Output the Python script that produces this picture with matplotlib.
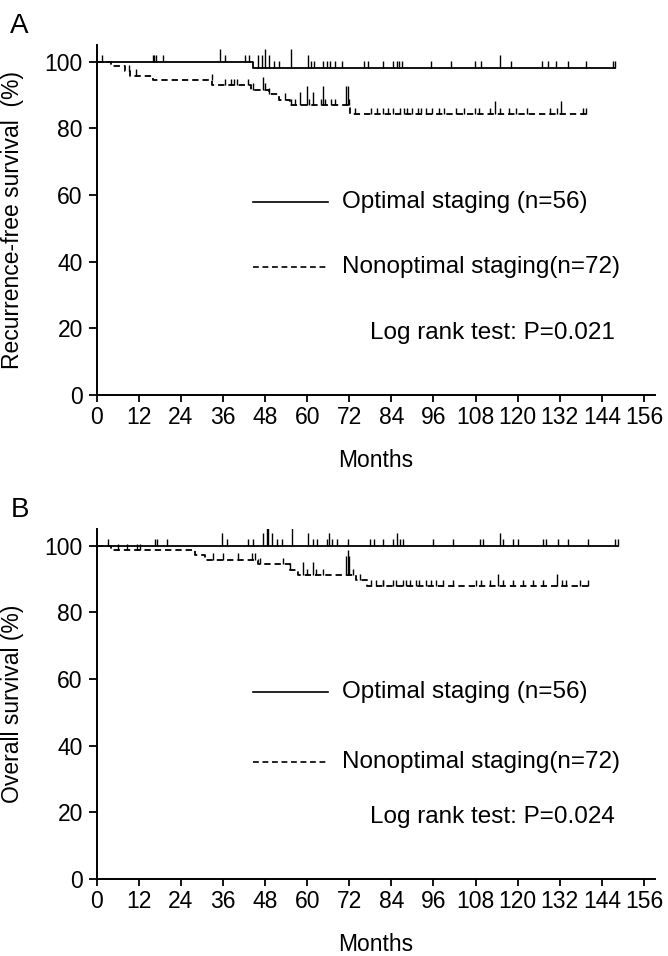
import matplotlib.pyplot as plt
import numpy as np

plt.rcParams['font.family'] = ['Liberation Sans', 'DejaVu Sans']

# ---- Panel A: recurrence-free survival ----
a_opt_times = [0, 44.6]
a_opt_surv = [100, 98.2]
a_opt_end = 147.8
a_opt_cens = [1.4, 15.9, 16.4, 16.9, 18.9, 35.0, 36.5, 42.3, 43.3, 45.9, 47.0, 48.0,
              49.0, 50.5, 52.0, 55.4, 60.2, 61.2, 62.0, 64.5, 65.5, 66.5, 68.0, 70.0,
              76.3, 77.3, 81.7, 84.5, 85.7, 86.3, 86.9, 95.3, 101.0, 107.7, 109.6,
              114.9, 118.2, 126.8, 128.7, 131.0, 134.4, 139.6, 147.3, 147.8]
a_opt_cnt = [1, 1, 1, 1, 1, 2, 1, 1, 1, 2, 2, 3,
             2, 1, 1, 3, 2, 1, 1, 1, 1, 1, 1, 1,
             1, 1, 1, 1, 1, 1, 1, 1, 1, 1, 1,
             2, 1, 1, 1, 1, 1, 1, 1, 1]

a_non_times = [0, 4.0, 8.1, 9.5, 16.0, 33.0, 44.0, 49.0, 52.0, 55.0, 72.3]
a_non_surv = [100, 98.6, 97.2, 95.8, 94.4, 93.0, 91.6, 90.2, 88.6, 87.0, 84.3]
a_non_end = 140.0
a_non_cens = [9.2, 11.1, 32.9, 36.7, 38.2, 39.1, 40.0, 43.0, 44.5, 47.3, 48.0, 49.0,
              53.7, 55.5, 56.5, 57.9, 59.9, 60.5, 61.6, 64.0, 64.5, 65.0, 66.7, 68.0,
              71.1, 71.6, 72.0, 73.5, 78.3, 80.0, 81.5, 83.0, 84.5, 86.4, 87.5, 88.5,
              90.0, 91.5, 92.5, 94.0, 95.5, 97.5, 99.0, 102.5, 104.8, 107.7, 109.0,
              112.0, 113.5, 115.0, 117.6, 119.5, 122.6, 129.3, 131.2, 132.4, 138.6, 139.5]
a_non_cnt = [1, 1, 1, 1, 1, 1, 1, 1, 1, 2, 1, 1,
             1, 1, 1, 2, 3, 1, 2, 1, 3, 1, 1, 1,
             3, 3, 1, 1, 1, 1, 1, 1, 1, 1, 1, 1,
             1, 1, 1, 1, 1, 1, 1, 1, 1, 1, 1,
             1, 2, 1, 1, 1, 1, 1, 1, 2, 1, 1]

# ---- Panel B: overall survival ----
b_opt_times = [0]
b_opt_surv = [100]
b_opt_end = 148.6
b_opt_cens = [3.3, 16.6, 17.1, 19.9, 35.6, 37.0, 43.2, 44.6, 47.5, 48.4, 48.9, 49.9,
              51.3, 52.7, 55.6, 60.3, 61.7, 62.7, 65.5, 66.2, 67.0, 68.4, 71.7, 77.9,
              78.9, 81.7, 84.5, 85.5, 86.5, 87.4, 95.9, 101.6, 109.2, 110.2, 114.9,
              115.8, 118.7, 120.1, 127.3, 128.2, 131.6, 134.4, 140.1, 147.7, 148.6]
b_opt_cnt = [1, 1, 1, 1, 2, 1, 1, 1, 2, 3, 3, 2,
             1, 1, 3, 2, 1, 1, 1, 2, 1, 1, 1, 1,
             1, 1, 1, 2, 1, 1, 1, 1, 1, 1, 2,
             1, 1, 1, 1, 1, 1, 1, 1, 1, 1]

b_non_times = [0, 4.0, 28.0, 31.0, 46.0, 55.0, 57.5, 74.0, 77.0]
b_non_surv = [100, 98.6, 97.2, 95.8, 94.4, 92.8, 91.2, 89.6, 87.8]
b_non_end = 140.6
b_non_cens = [6.2, 8.5, 11.4, 12.3, 33.1, 36.1, 40.4, 44.2, 45.0, 46.5, 53.2, 55.1,
              58.9, 59.8, 61.7, 62.6, 64.5, 71.0, 71.5, 72.0, 73.0, 75.0, 78.3, 79.7,
              81.5, 81.7, 84.5, 85.4, 87.4, 88.3, 89.2, 91.1, 92.0, 94.0, 95.4, 96.8,
              98.7, 101.6, 108.2, 109.6, 112.0, 114.4, 115.8, 118.7, 121.6, 124.4,
              127.3, 131.1, 132.5, 133.9, 137.7, 140.1]
b_non_cnt = [1, 1, 1, 1, 1, 1, 1, 1, 1, 1, 1, 1,
             2, 1, 2, 1, 1, 3, 4, 3, 1, 1, 1, 1,
             1, 1, 1, 1, 1, 1, 1, 1, 1, 1, 1, 1,
             1, 1, 1, 1, 1, 2, 1, 1, 1, 1,
             1, 2, 1, 1, 1, 1]

labels = ['Optimal staging (n=56)', 'Nonoptimal staging(n=72)']
month_ticks = np.arange(0, 157, 12)
pct_ticks = np.arange(0, 101, 20)

DASH = (0, (3.5, 2.2))
FS = 16.5


def draw_km(ax, times, surv, end, cens, cnt, ls):
    t = np.r_[times, end]
    s = np.r_[surv, surv[-1]]
    ax.step(t, s, where='post', color='black', lw=1.3, ls=ls)
    c = np.asarray(cens)
    idx = np.searchsorted(times, c, side='right') - 1
    base = np.asarray(surv)[idx]
    ax.vlines(c, base, base + 1.9 * np.asarray(cnt), color='black', lw=1.0)


def setup_axes(ax, ylabel, letter, ptext, rows):
    ax.set_xlim(0, 159)
    ax.set_ylim(0, 105)
    ax.spines['top'].set_visible(False)
    ax.spines['right'].set_visible(False)
    ax.spines['left'].set_linewidth(1.4)
    ax.spines['bottom'].set_linewidth(1.4)
    ax.set_xticks(month_ticks)
    ax.set_yticks(pct_ticks)
    ax.tick_params(direction='out', width=1.3, labelsize=FS)
    ax.tick_params(axis='x', length=5, pad=3)
    ax.tick_params(axis='y', length=6, pad=4)
    ax.set_ylabel(ylabel, fontsize=FS)
    ax.yaxis.set_label_coords(-0.13, 0.5)
    ax.set_xlabel('Months', fontsize=FS)
    ax.xaxis.set_label_coords(0.5, -0.155)
    ax.text(-0.155, 1.018, letter, transform=ax.transAxes, fontsize=20,
            ha='left', va='bottom')
    # legend drawn by hand like the original
    for (y, lab, ls) in zip(rows[:2], labels, ['-', DASH]):
        ax.plot([44.6, 65.8], [y, y], color='black', lw=1.2, ls=ls)
        ax.text(70.0, y, lab, fontsize=17.5, va='center', ha='left')
    ax.text(77.8, rows[2], ptext, fontsize=17.5, va='center', ha='left')


fig = plt.figure(figsize=(6.68, 9.56), dpi=100)
axA = fig.add_axes([0.1448, 0.5868, 0.835, 0.3663])
axB = fig.add_axes([0.1448, 0.0805, 0.835, 0.3663])

draw_km(axA, a_opt_times, a_opt_surv, a_opt_end, a_opt_cens, a_opt_cnt, '-')
draw_km(axA, a_non_times, a_non_surv, a_non_end, a_non_cens, a_non_cnt, DASH)
setup_axes(axA, 'Recurrence-free survival  (%)', 'A', 'Log rank test: P=0.021', [58, 38.5, 18.5])

draw_km(axB, b_opt_times, b_opt_surv, b_opt_end, b_opt_cens, b_opt_cnt, '-')
draw_km(axB, b_non_times, b_non_surv, b_non_end, b_non_cens, b_non_cnt, DASH)
setup_axes(axB, 'Overall survival (%)', 'B', 'Log rank test: P=0.024', [56, 35, 18.5])

fig.savefig('out.png', dpi=100)
